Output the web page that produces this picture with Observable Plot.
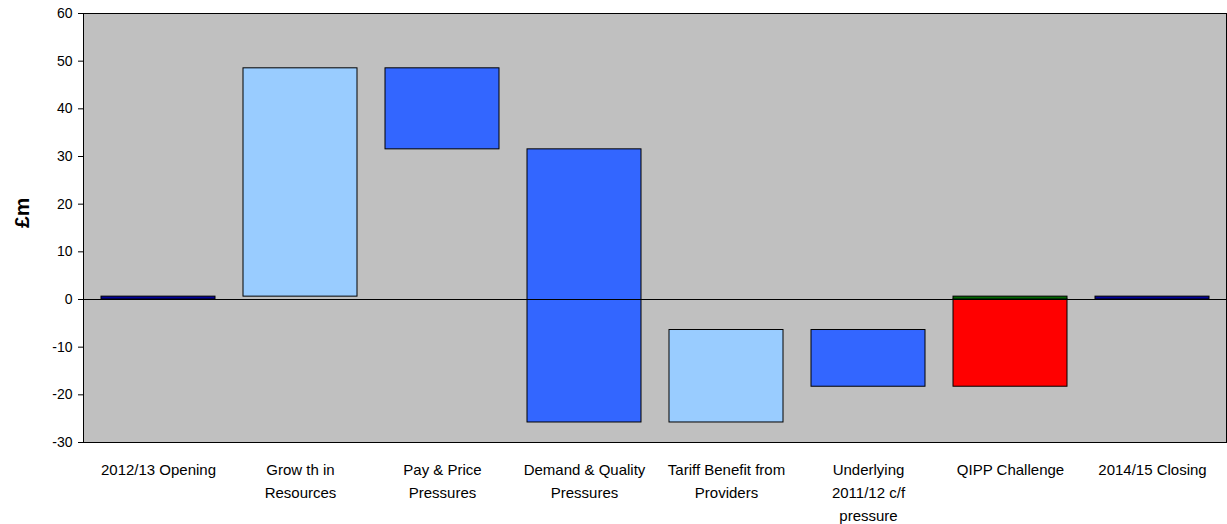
<!DOCTYPE html>
<html>
<head>
<meta charset="utf-8">
<script src="https://cdn.jsdelivr.net/npm/d3@7"></script>
<script src="https://cdn.jsdelivr.net/npm/@observablehq/plot@0.6"></script>
<style>
  html, body { margin: 0; padding: 0; background: #fff; }
  #chart { width: 1227px; height: 524px; }
</style>
</head>
<body>
<div id="chart"></div>
<script>
// Categories (x tick labels)
const categories = [
  "2012/13 Opening",
  "Grow th in\nResources",
  "Pay & Price\nPressures",
  "Demand & Quality\nPressures",
  "Tariff Benefit from\nProviders",
  "Underlying\n2011/12 c/f\npressure",
  "QIPP Challenge",
  "2014/15 Closing"
];
// Floating bar bottoms and tops (£m)
const lows  = [0,   0.6, 31.5, -25.8, -25.8, -18.3, -18.3, 0];
const highs = [0.6, 48.5, 48.5, 31.5, -6.4, -6.4, 0, 0.6];
const kinds = ["position", "funding", "pressure", "pressure", "funding", "pressure", "challenge", "position"];
// Extra thin segment on top of the QIPP bar
const extraCategory = ["QIPP Challenge"];
const extraLows = [0];
const extraHighs = [0.6];
const extraKinds = ["balance"];
const yTicks = [60, 50, 40, 30, 20, 10, 0, -10, -20, -30];

const bars = categories.map((c, i) => ({cat: c, lo: lows[i], hi: highs[i], kind: kinds[i]}));
const extra = extraCategory.map((c, i) => ({cat: c, lo: extraLows[i], hi: extraHighs[i], kind: extraKinds[i]}));

const chart = Plot.plot({
  width: 1227,
  height: 524,
  marginLeft: 83,
  marginRight: 1,
  marginTop: 13,
  marginBottom: 82,
  style: {fontFamily: "'Liberation Sans', Arial, sans-serif", fontSize: "14px", background: "#fff", color: "#000"},
  x: {domain: categories, paddingInner: 0.2, paddingOuter: 0.1, label: null},
  y: {domain: [-30, 60], label: null},
  color: {
    domain: ["position", "funding", "pressure", "challenge", "balance"],
    range: ["#000099", "#99ccff", "#3366ff", "#ff0000", "#006600"]
  },
  marks: [
    Plot.frame({fill: "#c0c0c0"}),
    Plot.barY(bars, {x: "cat", y1: "lo", y2: "hi", fill: "kind", stroke: "#000", strokeWidth: 1}),
    Plot.barY(extra, {x: "cat", y1: "lo", y2: "hi", fill: "kind", stroke: "#000", strokeWidth: 1}),
    Plot.ruleY([0], {stroke: "#000", strokeWidth: 1}),
    Plot.frame({stroke: "#000", strokeWidth: 1}),
    Plot.axisY({ticks: yTicks, tickSize: 5, tickPadding: 6, fontSize: 14, label: null, stroke: "#000", tickFormat: d => String(d)}),
    Plot.axisX({tickSize: 0, tickPadding: 16, fontSize: 15, lineHeight: 1.53, label: null, tickFormat: d => d}),
    Plot.text(["£m"], {frameAnchor: "left", text: d => d, rotate: -90, dx: -61, fontSize: 21, fontWeight: "bold", fill: "#000"})
  ]
});
document.getElementById("chart").appendChild(chart);
</script>
</body>
</html>
